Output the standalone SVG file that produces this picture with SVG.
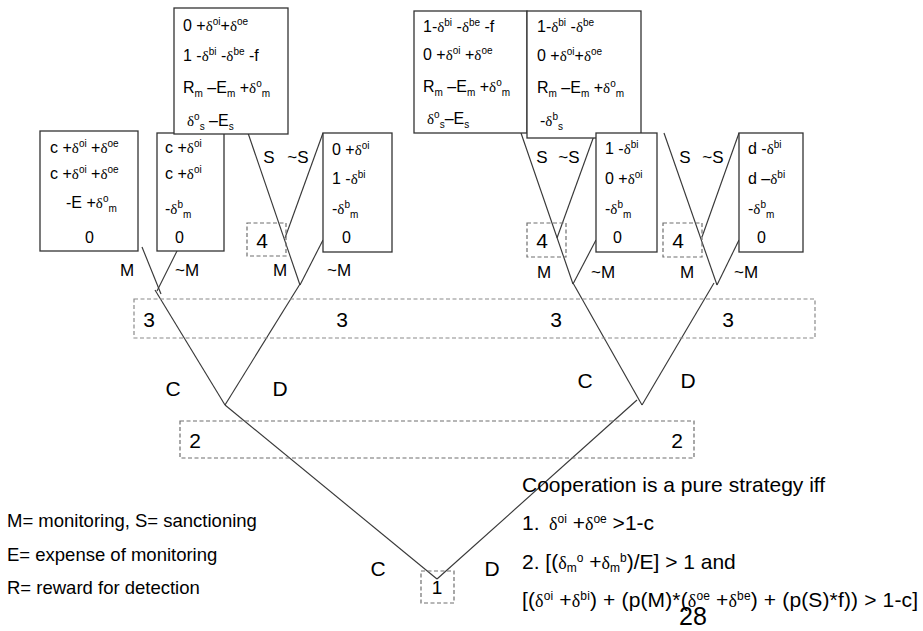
<svg xmlns="http://www.w3.org/2000/svg" width="923" height="631" viewBox="0 0 923 631">
  <style>
    .bx { fill: #fff; stroke: #333; stroke-width: 1.3; }
    .dn { fill: none; stroke: #6e6e6e; stroke-width: 1.2; stroke-dasharray: 4 2.5; }
    .dl { fill: none; stroke: #8a8a8a; stroke-width: 1.2; stroke-dasharray: 4 2.5; }
    .ln { fill: none; stroke: #383838; stroke-width: 1.15; }
    text { font-family: "Liberation Sans", Arial, sans-serif; fill: #000; }
    .t { font-size: 16px; }
    .lb { font-size: 17px; text-anchor: middle; }
    .big { font-size: 21px; text-anchor: middle; }
    .g { font-family: "Liberation Serif", "Times New Roman", serif; font-size: 15px; }
    .p { font-size: 10px; baseline-shift: 6px; }
    .b { font-size: 10px; baseline-shift: -4px; }
    .leg { font-size: 18.5px; }
    .cn { font-size: 21px; }
    .cn .g { font-size: 18px; }
    .cn .p { font-size: 12px; baseline-shift: 7px; }
    .cn .b { font-size: 12px; baseline-shift: -3px; }
  </style>

  <!-- branches of the game tree -->
  <g id="connectors">
    <line class="ln" x1="437" y1="579" x2="225" y2="405"/>
    <line class="ln" x1="437" y1="579" x2="637" y2="400"/>
    <line class="ln" x1="225" y1="405" x2="155" y2="290"/>
    <line class="ln" x1="225" y1="405" x2="300" y2="284"/>
    <line class="ln" x1="642" y1="405" x2="573" y2="283"/>
    <line class="ln" x1="642" y1="405" x2="714" y2="283"/>
    <line class="ln" x1="142" y1="247" x2="161" y2="294"/>
    <line class="ln" x1="179" y1="247" x2="157" y2="291"/>
    <line class="ln" x1="248" y1="133" x2="300" y2="285"/>
    <line class="ln" x1="323" y1="133" x2="285" y2="238"/>
    <line class="ln" x1="323" y1="240" x2="300" y2="285"/>
    <line class="ln" x1="521" y1="133" x2="573" y2="284"/>
    <line class="ln" x1="595" y1="133" x2="557" y2="238"/>
    <line class="ln" x1="596" y1="240" x2="573" y2="284"/>
    <line class="ln" x1="664" y1="133" x2="717" y2="285"/>
    <line class="ln" x1="739" y1="133" x2="702" y2="237"/>
    <line class="ln" x1="739" y1="240" x2="717" y2="285"/>
  </g>

  <!-- decision nodes -->
  <g id="node-1">
    <rect class="dn" x="421" y="571" width="33" height="32"/>
    <text class="lb" x="437" y="594" style="font-size:19px">1</text>
  </g>
  <g id="node-2">
    <rect class="dn" x="180" y="421" width="514" height="37"/>
    <text class="big" x="195" y="448">2</text>
    <text class="big" x="677" y="448">2</text>
  </g>
  <g id="node-3">
    <rect class="dl" x="134" y="299" width="681" height="39"/>
    <text class="big" x="149" y="327">3</text>
    <text class="big" x="342" y="327">3</text>
    <text class="big" x="556" y="327">3</text>
    <text class="big" x="728" y="327">3</text>
  </g>
  <g id="node-4a">
    <rect class="dn" x="247" y="223" width="39" height="33"/>
    <text class="big" x="262" y="248">4</text>
  </g>
  <g id="node-4b">
    <rect class="dn" x="527" y="223" width="39" height="34"/>
    <text class="big" x="542" y="248">4</text>
  </g>
  <g id="node-4c">
    <rect class="dn" x="663" y="223" width="39" height="34"/>
    <text class="big" x="678" y="248">4</text>
  </g>

  <!-- payoff boxes -->
  <g id="payoff-c-m">
    <rect class="bx" x="40" y="131" width="98" height="120"/>
    <text class="t" x="50" y="153">c +<tspan class="g">δ</tspan><tspan class="p">oi</tspan> +<tspan class="g">δ</tspan><tspan class="p">oe</tspan></text>
    <text class="t" x="50" y="179">c +<tspan class="g">δ</tspan><tspan class="p">oi</tspan> +<tspan class="g">δ</tspan><tspan class="p">oe</tspan></text>
    <text class="t" x="66" y="208">-E +<tspan class="g">δ</tspan><tspan class="p">o</tspan><tspan class="b">m</tspan></text>
    <text class="t" x="85" y="243">0</text>
  </g>
  <g id="payoff-c-nm">
    <rect class="bx" x="157" y="133" width="67" height="118"/>
    <text class="t" x="165" y="153">c +<tspan class="g">δ</tspan><tspan class="p">oi</tspan></text>
    <text class="t" x="165" y="179">c +<tspan class="g">δ</tspan><tspan class="p">oi</tspan></text>
    <text class="t" x="165" y="214">-<tspan class="g">δ</tspan><tspan class="p">b</tspan><tspan class="b">m</tspan></text>
    <text class="t" x="175" y="243">0</text>
  </g>
  <g id="payoff-d-m-s">
    <rect class="bx" x="174" y="8" width="114" height="126"/>
    <text class="t" x="183" y="31">0 +<tspan class="g">δ</tspan><tspan class="p">oi</tspan>+<tspan class="g">δ</tspan><tspan class="p">oe</tspan></text>
    <text class="t" x="183" y="61">1 -<tspan class="g">δ</tspan><tspan class="p">bi</tspan> -<tspan class="g">δ</tspan><tspan class="p">be</tspan> -f</text>
    <text class="t" x="183" y="93">R<tspan class="b">m</tspan> –E<tspan class="b">m</tspan> +<tspan class="g">δ</tspan><tspan class="p">o</tspan><tspan class="b">m</tspan></text>
    <text class="t" x="187" y="126"><tspan class="g">δ</tspan><tspan class="p">o</tspan><tspan class="b">s</tspan> –E<tspan class="b">s</tspan></text>
  </g>
  <g id="payoff-d-m-ns">
    <rect class="bx" x="323" y="133" width="69" height="119"/>
    <text class="t" x="332" y="155">0 +<tspan class="g">δ</tspan><tspan class="p">oi</tspan></text>
    <text class="t" x="332" y="184">1 -<tspan class="g">δ</tspan><tspan class="p">bi</tspan></text>
    <text class="t" x="332" y="214">-<tspan class="g">δ</tspan><tspan class="p">b</tspan><tspan class="b">m</tspan></text>
    <text class="t" x="342" y="243">0</text>
  </g>
  <g id="payoff-c-d-m-s">
    <rect class="bx" x="414" y="11" width="113" height="122"/>
    <text class="t" x="423" y="32">1-<tspan class="g">δ</tspan><tspan class="p">bi</tspan> -<tspan class="g">δ</tspan><tspan class="p">be</tspan> -f</text>
    <text class="t" x="423" y="60">0 +<tspan class="g">δ</tspan><tspan class="p">oi</tspan> +<tspan class="g">δ</tspan><tspan class="p">oe</tspan></text>
    <text class="t" x="423" y="92">R<tspan class="b">m</tspan> –E<tspan class="b">m</tspan> +<tspan class="g">δ</tspan><tspan class="p">o</tspan><tspan class="b">m</tspan></text>
    <text class="t" x="427" y="124"><tspan class="g">δ</tspan><tspan class="p">o</tspan><tspan class="b">s</tspan>–E<tspan class="b">s</tspan></text>
  </g>
  <g id="payoff-d-d-m-s">
    <rect class="bx" x="527" y="11" width="114" height="127"/>
    <text class="t" x="537" y="32">1-<tspan class="g">δ</tspan><tspan class="p">bi</tspan> -<tspan class="g">δ</tspan><tspan class="p">be</tspan></text>
    <text class="t" x="537" y="61">0 +<tspan class="g">δ</tspan><tspan class="p">oi</tspan>+<tspan class="g">δ</tspan><tspan class="p">oe</tspan></text>
    <text class="t" x="537" y="93">R<tspan class="b">m</tspan> –E<tspan class="b">m</tspan> +<tspan class="g">δ</tspan><tspan class="p">o</tspan><tspan class="b">m</tspan></text>
    <text class="t" x="540" y="126">-<tspan class="g">δ</tspan><tspan class="p">b</tspan><tspan class="b">s</tspan></text>
  </g>
  <g id="payoff-c-d-nm">
    <rect class="bx" x="596" y="133" width="61" height="119"/>
    <text class="t" x="605" y="154">1 -<tspan class="g">δ</tspan><tspan class="p">bi</tspan></text>
    <text class="t" x="605" y="184">0 +<tspan class="g">δ</tspan><tspan class="p">oi</tspan></text>
    <text class="t" x="605" y="214">-<tspan class="g">δ</tspan><tspan class="p">b</tspan><tspan class="b">m</tspan></text>
    <text class="t" x="613" y="243">0</text>
  </g>
  <g id="payoff-d-d-nm">
    <rect class="bx" x="739" y="133" width="64" height="119"/>
    <text class="t" x="748" y="154">d -<tspan class="g">δ</tspan><tspan class="p">bi</tspan></text>
    <text class="t" x="748" y="184">d –<tspan class="g">δ</tspan><tspan class="p">bi</tspan></text>
    <text class="t" x="748" y="214">-<tspan class="g">δ</tspan><tspan class="p">b</tspan><tspan class="b">m</tspan></text>
    <text class="t" x="757" y="243">0</text>
  </g>

  <!-- branch labels -->
  <g id="branch-labels">
    <text class="lb" x="127" y="276">M</text>
    <text class="lb" x="187" y="276">~M</text>
    <text class="lb" x="280" y="276">M</text>
    <text class="lb" x="339" y="276">~M</text>
    <text class="lb" x="544" y="278">M</text>
    <text class="lb" x="603" y="278">~M</text>
    <text class="lb" x="687" y="278">M</text>
    <text class="lb" x="746" y="278">~M</text>
    <text class="lb" x="269" y="163">S</text>
    <text class="lb" x="298" y="163">~S</text>
    <text class="lb" x="542" y="163">S</text>
    <text class="lb" x="569" y="163">~S</text>
    <text class="lb" x="685" y="163">S</text>
    <text class="lb" x="713" y="163">~S</text>
    <text class="big" x="173" y="396">C</text>
    <text class="big" x="280" y="396">D</text>
    <text class="big" x="585" y="388">C</text>
    <text class="big" x="688" y="388">D</text>
    <text class="big" x="378" y="576">C</text>
    <text class="big" x="492" y="576">D</text>
  </g>

  <!-- legend -->
  <g id="legend">
    <text class="leg" x="7" y="527">M= monitoring, S= sanctioning</text>
    <text class="leg" x="7" y="561">E= expense of monitoring</text>
    <text class="leg" x="7" y="594">R= reward for detection</text>
  </g>

  <!-- conditions for cooperation -->
  <g id="conditions" class="cn">
    <text x="522" y="492">Cooperation is a pure strategy iff</text>
    <text x="522" y="530">1.<tspan x="549" class="g">δ</tspan><tspan class="p">oi</tspan> +<tspan class="g">δ</tspan><tspan class="p">oe</tspan> &gt;1-c</text>
    <text x="522" y="569">2. [(<tspan class="g">δ</tspan><tspan class="b">m</tspan><tspan class="p">o</tspan> +<tspan class="g">δ</tspan><tspan class="b">m</tspan><tspan class="p">b</tspan>)/E] &gt; 1 and</text>
    <text x="522" y="607" textLength="396" lengthAdjust="spacing">[(<tspan class="g">δ</tspan><tspan class="p">oi</tspan> +<tspan class="g">δ</tspan><tspan class="p">bi</tspan>) + (p(M)*(<tspan class="g">δ</tspan><tspan class="p">oe</tspan> +<tspan class="g">δ</tspan><tspan class="p">be</tspan>) + (p(S)*f)) &gt; 1-c]</text>
    <text x="693" y="625" style="font-size:25px;text-anchor:middle">28</text>
  </g>
</svg>
